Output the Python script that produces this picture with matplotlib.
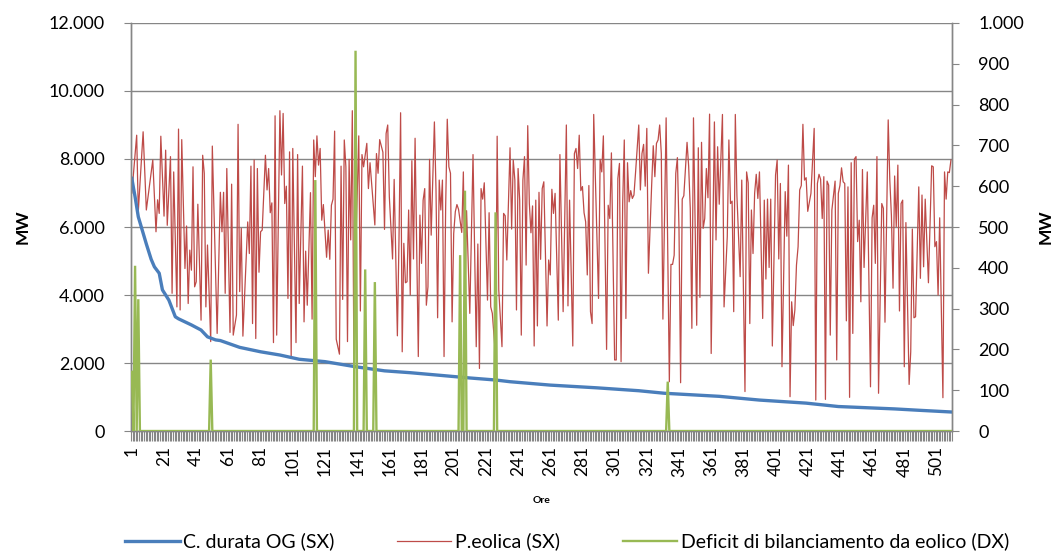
import matplotlib
matplotlib.use("Agg")
import matplotlib.pyplot as plt
from matplotlib.ticker import FuncFormatter, MultipleLocator, FixedLocator
import numpy as np

plt.rcParams["font.family"] = ["Lato", "DejaVu Sans"]

# --- data ---
n_hours = 510

# duration curve (SX axis), hour -> MW
durata_ore = [1, 2, 3, 5, 8, 10, 13, 15, 18, 20, 24, 28, 30, 38, 44, 48, 53, 56,
              68, 81, 93, 105, 121, 140, 158, 174, 192, 211, 227, 236, 261, 290,
              316, 332, 366, 391, 420, 440, 460, 475, 490, 510]
durata_mw = [7430, 7150, 6890, 6300, 5820, 5500, 5050, 4830, 4640, 4150, 3850,
             3360, 3300, 3120, 2970, 2770, 2680, 2660, 2460, 2330, 2235, 2110,
             2040, 1890, 1770, 1715, 1640, 1560, 1500, 1450, 1350, 1270, 1185,
             1110, 1020, 910, 820, 720, 680, 650, 610, 560]

# wind production (SX axis), visible vertices hour -> MW
eolica_ore = [
    1, 4, 5, 8, 10, 14, 16, 17, 18, 19, 21, 22, 23, 25, 26, 27, 29, 30, 31, 32,
    34, 35, 36, 37, 38, 39, 40, 41, 42, 44, 45, 46, 47, 48, 50, 51, 54, 56, 57, 58,
    59, 60, 62, 63, 64, 66, 67, 68, 69, 70, 73, 74, 75, 76, 77, 78, 79, 80, 81, 82,
    84, 85, 86, 87, 88, 89, 90, 91, 93, 94, 95, 96, 97, 98, 99, 100, 101, 103, 104, 105,
    107, 108, 109, 110, 112, 113, 114, 115, 116, 117, 118, 119, 120, 122, 123, 124, 125, 126, 127, 128,
    130, 131, 132, 133, 134, 135, 136, 137, 138, 139, 140, 142, 143, 144, 145, 147, 148, 149, 152, 153,
    154, 155, 157, 158, 159, 160, 161, 163, 164, 166, 167, 168, 169, 170, 171, 172, 173, 174, 175, 176,
    177, 179, 180, 181, 182, 183, 184, 185, 186, 187, 189, 190, 191, 192, 193, 194, 195, 196, 197, 198,
    199, 200, 201, 202, 203, 204, 206, 207, 208, 209, 211, 213, 215, 216, 217, 218, 219, 220, 222, 223,
    224, 225, 227, 228, 229, 231, 232, 233, 234, 236, 237, 238, 239, 240, 241, 242, 243, 244, 245, 246,
    247, 248, 249, 250, 251, 252, 253, 254, 255, 256, 257, 259, 260, 261, 262, 263, 264, 266, 267, 269,
    271, 272, 273, 275, 276, 277, 278, 279, 280, 281, 282, 283, 284, 285, 286, 287, 288, 291, 292, 293,
    294, 296, 297, 298, 299, 301, 302, 303, 304, 305, 306, 307, 308, 309, 310, 311, 312, 313, 314, 316,
    317, 318, 319, 320, 321, 322, 324, 325, 326, 327, 328, 329, 330, 331, 333, 335, 336, 337, 338, 339,
    340, 341, 342, 343, 344, 346, 347, 348, 349, 350, 352, 353, 354, 355, 356, 357, 358, 359, 360, 361,
    363, 364, 365, 366, 368, 369, 371, 372, 373, 374, 375, 376, 377, 379, 380, 382, 383, 384, 385, 386,
    387, 388, 389, 390, 391, 393, 394, 395, 396, 397, 398, 399, 401, 402, 403, 404, 405, 407, 408, 409,
    410, 411, 412, 413, 414, 415, 416, 417, 418, 419, 420, 421, 423, 425, 426, 427, 428, 429, 430, 431,
    432, 433, 434, 435, 436, 438, 439, 440, 441, 442, 443, 444, 445, 446, 447, 448, 449, 450, 451, 452,
    453, 454, 455, 456, 458, 460, 461, 462, 463, 464, 465, 467, 468, 469, 471, 472, 473, 474, 475, 476,
    477, 478, 479, 480, 481, 482, 484, 485, 486, 487, 488, 490, 491, 492, 493, 494, 496, 498, 499, 500,
    501, 502, 503, 505, 506, 507, 508, 509, 510]
eolica_mw = [
    7000, 8700, 6450, 8800, 6500, 7970, 5860, 6800, 6400, 8670, 6320, 8260, 6050, 8070, 4050, 7620, 3650, 8880, 3560, 8570,
    4780, 6030, 3750, 5320, 4730, 7770, 4240, 4390, 6670, 3260, 8110, 7580, 3650, 5470, 2630, 8380, 2870, 7020, 5860, 7020,
    4050, 7720, 2900, 7260, 2820, 3410, 9020, 4100, 5960, 2790, 6150, 5220, 7790, 3160, 7970, 2720, 7720, 4670, 5860, 5910,
    8110, 7090, 7720, 6420, 6710, 2600, 9270, 2820, 9420, 7530, 9340, 6690, 7200, 3900, 8210, 2190, 8310, 2600, 8130, 3750,
    7790, 3210, 5290, 3700, 7010, 3290, 8560, 7480, 8680, 7820, 8310, 6200, 6660, 5110, 5910, 5050, 6640, 6820, 8820, 2700,
    2260, 7790, 3870, 8560, 7770, 2630, 7990, 5620, 9420, 1890, 5130, 8680, 3530, 8130, 7770, 8460, 7130, 7890, 6060, 8160,
    7580, 8570, 8200, 5930, 8750, 9000, 6890, 5060, 7400, 2800, 5620, 9360, 2330, 5520, 4360, 4390, 6500, 4000, 7950, 5060,
    8610, 2190, 6350, 4930, 6790, 7130, 3700, 4240, 7990, 5760, 9090, 7090, 3330, 7380, 6500, 7380, 2190, 6600, 9170, 7770,
    7580, 3210, 5810, 6450, 6660, 6520, 5840, 7620, 3950, 6480, 3460, 8130, 2480, 5500, 1840, 7130, 6820, 7300, 3850, 6420,
    3650, 3460, 2190, 8670, 4150, 2480, 6400, 6330, 5030, 8330, 5940, 7970, 7380, 3560, 7720, 6790, 2820, 7380, 8070, 4880,
    8980, 6690, 5830, 6620, 2500, 6790, 3090, 7020, 5050, 7130, 7330, 3090, 5030, 4590, 7110, 6400, 6990, 3260, 8130, 3510,
    9000, 3680, 6790, 2500, 8160, 8310, 7720, 8700, 7070, 7190, 6420, 6150, 4590, 7220, 3510, 3160, 9310, 3900, 7990, 7620,
    8680, 2400, 6640, 6250, 8180, 2090, 2090, 7430, 7870, 2040, 6690, 8560, 3310, 7890, 6740, 7070, 6840, 6940, 7600, 9000,
    7090, 8160, 8430, 7200, 8900, 4640, 7220, 8390, 7480, 8460, 8560, 9000, 8160, 3290, 9210, 1450, 4900, 4900, 5170, 7580,
    8040, 5940, 1420, 6820, 6920, 8490, 7790, 6550, 3020, 9210, 3110, 8330, 3930, 8490, 5960, 6250, 7720, 6860, 9320, 2280,
    9090, 5620, 8360, 6670, 9310, 3650, 5720, 8560, 6690, 6760, 3510, 9310, 6920, 4540, 7380, 1160, 7620, 7300, 3160, 6500,
    5220, 6990, 7550, 6840, 7620, 3310, 6790, 4470, 6820, 4810, 6820, 2500, 7530, 7970, 5060, 7280, 1890, 7040, 5730, 7820,
    1010, 3800, 3100, 3560, 4880, 5420, 7090, 7220, 9020, 7380, 7450, 6460, 6990, 8900, 910, 7280, 7550, 7400, 6250, 7480,
    930, 7350, 7230, 2820, 6500, 7350, 2090, 6990, 7220, 7740, 7330, 7280, 3240, 7180, 990, 7890, 2870, 8000, 8070, 5570,
    6200, 3800, 7690, 4810, 7620, 1300, 6270, 6640, 4930, 8070, 1110, 6690, 6550, 3200, 9150, 7380, 6330, 4200, 7500, 6010,
    7820, 3530, 6690, 6790, 1890, 6130, 1370, 2330, 5940, 3330, 3360, 7180, 4490, 6940, 4830, 6820, 4360, 7800, 7770, 5420,
    5570, 4000, 6270, 980, 7620, 6820, 7620, 7600, 7970]

# balancing deficit (DX axis): non-zero hours only
deficit_ore = [1, 3, 5, 50, 115, 140, 146, 152, 205, 208, 227, 334]
deficit_mw = [145, 405, 323, 175, 615, 932, 396, 365, 431, 589, 536, 121]

ore_labels = list(range(1, n_hours + 1, 20))

# --- build series ---
hours = np.arange(1, n_hours + 1)
deficit = np.zeros(n_hours)
deficit[np.array(deficit_ore) - 1] = deficit_mw

BLUE = "#4A7EBB"
RED = "#BE4B48"
GREEN = "#98B954"
GRID = "#868686"

fig = plt.figure(figsize=(10.62, 5.54), dpi=100)
ax = fig.add_axes([0.1234, 0.222, 0.7728, 0.7365])
ax2 = ax.twinx()

l_eol, = ax.plot(eolica_ore, eolica_mw, color=RED, lw=0.9, zorder=2)
l_dur, = ax.plot(durata_ore, durata_mw, color=BLUE, lw=2.4, zorder=3)
l_def, = ax2.plot(hours, deficit, color=GREEN, lw=1.7, zorder=3,
                  solid_joinstyle="miter")

thousands = FuncFormatter(lambda v, p: f"{int(round(v)):,}".replace(",", "."))

ax.set_xlim(0.5, n_hours + 0.5)
ax.set_ylim(0, 12000)
ax.yaxis.set_major_locator(MultipleLocator(2000))
ax.yaxis.set_major_formatter(thousands)
ax2.set_ylim(0, 1000)
ax2.yaxis.set_major_locator(MultipleLocator(100))
ax2.yaxis.set_major_formatter(thousands)

ax.grid(axis="y", color=GRID, lw=1.0)
ax.set_axisbelow(True)

ax.xaxis.set_major_locator(FixedLocator(ore_labels))
ax.set_xticklabels([str(v) for v in ore_labels], rotation=90)
ax.xaxis.set_minor_locator(FixedLocator(np.arange(0.5, n_hours + 1, 1)))
ax.tick_params(axis="x", which="major", length=0, pad=11, labelsize=12.5)
ax.tick_params(axis="x", which="minor", length=7, width=0.8, color=GRID)
ax.tick_params(axis="y", length=5, color=GRID, labelsize=13, pad=14)
ax2.tick_params(axis="y", length=5, color=GRID, labelsize=13, pad=14)

for a in (ax, ax2):
    a.spines["top"].set_visible(False)
    for s in ("left", "right", "bottom"):
        a.spines[s].set_color(GRID)
        a.spines[s].set_linewidth(1.0)

ax.set_ylabel("MW", fontsize=12.5, fontweight="bold", labelpad=13)
ax2.set_ylabel("MW", fontsize=12.5, fontweight="bold", rotation=90, labelpad=10)
ax.set_xlabel("Ore", fontsize=7.5, fontweight="bold", labelpad=14)

fig.legend([l_dur, l_eol, l_def],
           ["C. durata OG (SX)", "P.eolica (SX)", "Deficit di bilanciamento da eolico (DX)"],
           loc="lower center", bbox_to_anchor=(0.534, -0.025), ncol=3, frameon=False,
           fontsize=14, handlelength=2.8, handletextpad=0.2, columnspacing=3.2)

fig.savefig("out.png", dpi=100)
plt.close(fig)
